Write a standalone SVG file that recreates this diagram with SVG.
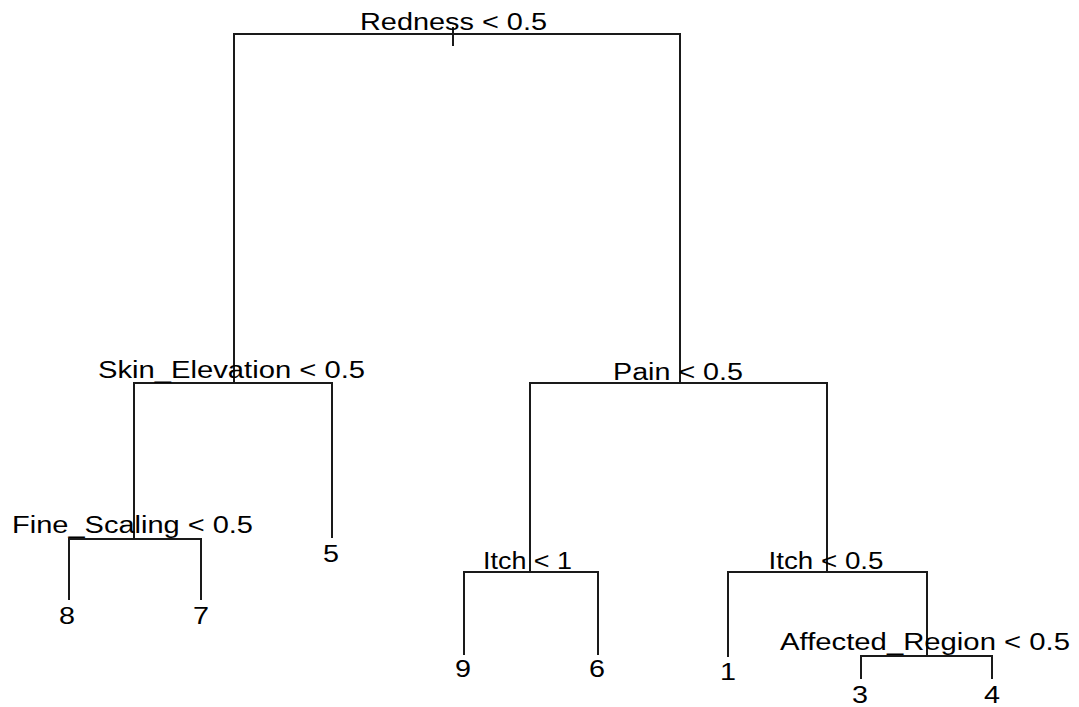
<svg xmlns="http://www.w3.org/2000/svg" width="1079" height="707" viewBox="0 0 1079 707">
<style>
.e{fill:none;stroke:#1a1a1a;stroke-width:2;stroke-linecap:butt}
text{font-family:"Liberation Sans",Arial,sans-serif;font-size:23px;fill:#000;text-anchor:middle}
</style>
<rect width="1079" height="707" fill="#fff"/>
<g id="connectors">
<path class="e" d="M453,27V46"/>
<path class="e" d="M234,383V34H680V383"/>
<path class="e" d="M134,539V383H332V538"/>
<path class="e" d="M69,600V539H201V600"/>
<path class="e" d="M464,655V572H598V655"/>
<path class="e" d="M530,572V383H827V572"/>
<path class="e" d="M728,657V572H927V656"/>
<path class="e" d="M861,679V656H992V679"/>
</g>
<g id="n1"><text x="453.5" y="30" textLength="187" lengthAdjust="spacingAndGlyphs">Redness &lt; 0.5</text></g>
<g id="n2"><text x="231.5" y="378" textLength="267" lengthAdjust="spacingAndGlyphs">Skin_Elevation &lt; 0.5</text></g>
<g id="n3"><text x="678" y="380" textLength="130" lengthAdjust="spacingAndGlyphs">Pain &lt; 0.5</text></g>
<g id="n4"><text x="132.5" y="533" textLength="241" lengthAdjust="spacingAndGlyphs">Fine_Scaling &lt; 0.5</text></g>
<g id="n5"><text x="527.5" y="569" textLength="89" lengthAdjust="spacingAndGlyphs">Itch &lt; 1</text></g>
<g id="n6"><text x="826" y="569" textLength="115" lengthAdjust="spacingAndGlyphs">Itch &lt; 0.5</text></g>
<g id="n7"><text x="925" y="650" textLength="290" lengthAdjust="spacingAndGlyphs">Affected_Region &lt; 0.5</text></g>
<g id="leaf8"><text x="67" y="624" textLength="16" lengthAdjust="spacingAndGlyphs">8</text></g>
<g id="leaf7"><text x="201" y="624" textLength="16" lengthAdjust="spacingAndGlyphs">7</text></g>
<g id="leaf5"><text x="331" y="562" textLength="16" lengthAdjust="spacingAndGlyphs">5</text></g>
<g id="leaf9"><text x="463" y="677" textLength="16" lengthAdjust="spacingAndGlyphs">9</text></g>
<g id="leaf6"><text x="597" y="677" textLength="16" lengthAdjust="spacingAndGlyphs">6</text></g>
<g id="leaf1"><text x="728" y="680" textLength="16" lengthAdjust="spacingAndGlyphs">1</text></g>
<g id="leaf3"><text x="860" y="703" textLength="16" lengthAdjust="spacingAndGlyphs">3</text></g>
<g id="leaf4"><text x="992" y="703" textLength="16" lengthAdjust="spacingAndGlyphs">4</text></g>
</svg>
